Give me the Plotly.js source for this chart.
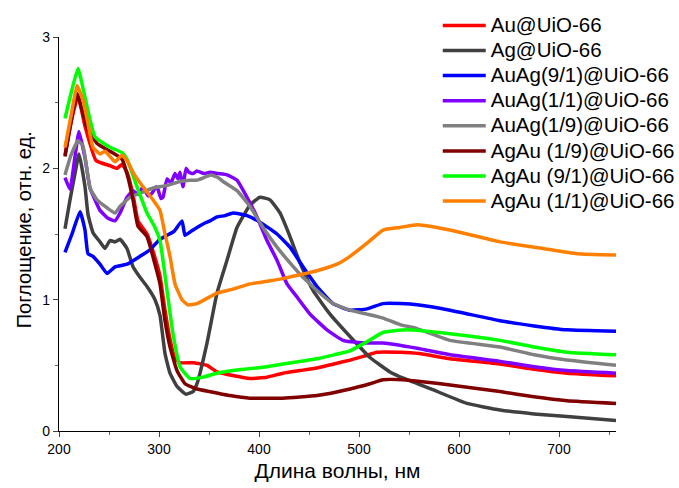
<!DOCTYPE html>
<html><head><meta charset="utf-8">
<script src="https://cdn.plot.ly/plotly-3.0.1.min.js"></script>
<style>body{margin:0;background:#fff}#c{width:679px;height:488px}</style>
</head><body><div id="c"></div>
<script>
var names = ["Au@UiO-66","Ag@UiO-66","AuAg(9/1)@UiO-66","AuAg(1/1)@UiO-66","AuAg(1/9)@UiO-66","AgAu (1/9)@UiO-66","AgAu (9/1)@UiO-66","AgAu (1/1)@UiO-66"];
var colors = ["#ff0000","#404040","#0000ff","#8000ff","#808080","#800000","#00ff00","#ff8000"];

var auX = [206,212,219,226,237,251,258,263,268,274,279,288,296,301,306,311,316,321,335,348,358,375,391,408,424,441,458,475,491,505,518,541,560,591,641,675,708,757];
var auY = [2.10,2.35,2.55,2.32,2.06,2.02,2.00,2.03,1.97,1.80,1.60,1.50,1.32,1.18,0.92,0.70,0.55,0.52,0.52,0.50,0.45,0.42,0.40,0.41,0.44,0.46,0.48,0.51,0.54,0.57,0.60,0.60,0.59,0.55,0.51,0.47,0.44,0.42];

var agX = [206,211,216,220,226,229,234,241,246,251,256,261,268,274,281,288,296,301,306,311,318,327,334,338,348,358,368,378,391,401,411,421,431,441,454,471,491,511,531,545,572,608,641,675,708,757];
var agY = [1.54,1.76,1.96,2.11,1.86,1.65,1.51,1.44,1.39,1.45,1.44,1.46,1.39,1.25,1.17,1.10,1.00,0.88,0.59,0.44,0.34,0.28,0.30,0.36,0.67,1.05,1.30,1.55,1.72,1.78,1.76,1.66,1.48,1.28,1.07,0.89,0.72,0.56,0.45,0.40,0.32,0.21,0.16,0.13,0.11,0.08];

var auag91X = [206,213,221,226,229,234,241,248,256,268,281,291,301,308,315,323,326,332,338,345,351,358,366,374,388,401,418,431,444,458,474,491,508,524,541,560,591,641,675,708,757];
var auag91Y = [1.36,1.50,1.67,1.53,1.35,1.33,1.27,1.20,1.25,1.27,1.33,1.38,1.46,1.49,1.52,1.60,1.49,1.52,1.55,1.58,1.60,1.63,1.64,1.66,1.64,1.59,1.50,1.40,1.25,1.10,0.97,0.92,0.93,0.97,0.97,0.96,0.92,0.84,0.80,0.77,0.76];

var auag11X = [206,211,216,220,226,231,236,241,249,256,261,268,274,279,284,289,293,297,299,302,304,308,312,316,319,321,324,327,330,334,338,345,351,359,368,378,388,398,408,418,428,438,451,468,484,508,524,558,591,641,675,708,757];
var auag11Y = [1.93,1.84,2.09,2.28,2.08,1.85,1.76,1.68,1.62,1.60,1.66,1.78,1.83,1.80,1.86,1.79,1.81,1.86,1.84,1.77,1.78,1.92,1.89,1.96,1.92,1.97,1.86,2.00,1.97,1.96,1.98,1.96,1.97,1.96,1.95,1.91,1.78,1.63,1.45,1.30,1.12,1.02,0.89,0.77,0.69,0.67,0.67,0.63,0.58,0.53,0.49,0.46,0.44];

var auag19X = [206,212,219,224,231,238,248,256,261,271,281,294,308,321,331,338,345,352,359,364,378,391,404,418,431,444,458,474,491,508,524,541,558,591,641,675,708,757];
var auag19Y = [1.95,2.10,2.21,2.17,1.85,1.76,1.70,1.66,1.71,1.78,1.81,1.85,1.87,1.90,1.91,1.91,1.93,1.95,1.93,1.90,1.83,1.71,1.55,1.40,1.28,1.17,1.07,0.97,0.92,0.89,0.86,0.81,0.78,0.69,0.64,0.58,0.54,0.50];

var agau19X = [206,212,218,228,238,251,263,269,274,279,288,296,301,306,311,318,326,338,351,371,391,424,458,491,511,524,544,591,641,675,708,757];
var agau19Y = [2.09,2.35,2.57,2.31,2.19,2.13,2.07,1.93,1.76,1.56,1.48,1.27,1.12,0.84,0.64,0.46,0.36,0.32,0.30,0.27,0.25,0.25,0.27,0.32,0.36,0.39,0.39,0.35,0.30,0.26,0.23,0.21];

var agau91X = [206,213,219,226,236,251,263,268,278,288,296,301,308,314,321,331,344,358,374,391,408,424,441,458,475,491,508,524,548,591,641,675,708,757];
var agau91Y = [2.38,2.60,2.76,2.54,2.24,2.16,2.12,2.07,1.86,1.66,1.55,1.45,1.07,0.74,0.49,0.40,0.41,0.44,0.46,0.475,0.49,0.51,0.53,0.55,0.58,0.61,0.68,0.75,0.77,0.74,0.69,0.64,0.60,0.58];

var agau11X = [206,213,218,224,229,234,241,246,251,256,263,268,274,281,288,294,301,306,311,316,323,329,338,348,358,374,391,408,424,441,458,478,491,508,524,541,558,578,591,608,641,684,718,757];
var agau11Y = [2.16,2.44,2.63,2.52,2.34,2.16,2.11,2.13,2.09,2.05,2.10,2.06,1.97,1.89,1.82,1.76,1.68,1.50,1.33,1.12,1.00,0.96,0.97,1.01,1.05,1.08,1.12,1.14,1.16,1.19,1.22,1.27,1.33,1.43,1.53,1.55,1.57,1.55,1.53,1.50,1.44,1.39,1.35,1.34];

var xs = [auX,agX,auag91X,auag11X,auag19X,agau19X,agau91X,agau11X];
var ys = [auY,agY,auag91Y,auag11Y,auag19Y,agau19Y,agau91Y,agau11Y];
var xTicks = [200,300,400,500,600,700];
var yTicks = [0,1,2,3];
var xTitle = 'Длина волны, нм';
var yTitle = 'Поглощение, отн. ед.';

var traces = names.map(function(n,i){
  return {x: xs[i], y: ys[i], name: '<span style="font-size:20.5px">' + n + '</span>', mode: 'lines', type: 'scatter',
    line: {color: colors[i], width: 3.5, shape: 'spline', smoothing: 0.4}};
});

var font = 'Arial, "Liberation Sans", sans-serif';
var layout = {
  width: 679, height: 488,
  margin: {l: 59, r: 63, t: 37, b: 57, autoexpand: false},
  paper_bgcolor: '#fff', plot_bgcolor: '#fff',
  font: {family: font, color: '#000'},
  showlegend: true,
  legend: {x: 0.680, y: 1.074, xanchor: 'left', yanchor: 'top', font: {size: 17, family: font, color: '#000'},
    bgcolor: 'rgba(0,0,0,0)', itemwidth: 43, tracegroupgap: 0},
  xaxis: {range: [200, 757], tickvals: xTicks, ticks: 'outside', ticklen: 5, tickwidth: 1,
    showline: true, linecolor: '#000', linewidth: 1.2, showgrid: false, zeroline: false,
    tickfont: {size: 14, family: font},
    minor: {dtick: 50, tick0: 200, ticks: 'outside', ticklen: 3, tickcolor: '#666', showgrid: false},
    title: {text: xTitle, font: {size: 21, family: font}, standoff: 7}},
  yaxis: {range: [0, 3], tickvals: yTicks, ticks: 'outside', ticklen: 5, tickwidth: 1,
    showline: true, linecolor: '#000', linewidth: 1.2, showgrid: false, zeroline: false,
    tickfont: {size: 14, family: font},
    minor: {dtick: 0.5, tick0: 0, ticks: 'outside', ticklen: 3, tickcolor: '#666', showgrid: false}},
  annotations: [{text: yTitle, textangle: -90, xref: 'paper', yref: 'paper',
    x: -0.039, y: 0.51, xanchor: 'right', yanchor: 'middle', showarrow: false,
    font: {size: 20, family: font, color: '#000'}}]
};
Plotly.newPlot('c', traces, layout, {displayModeBar: false, staticPlot: true});
</script></body></html>
